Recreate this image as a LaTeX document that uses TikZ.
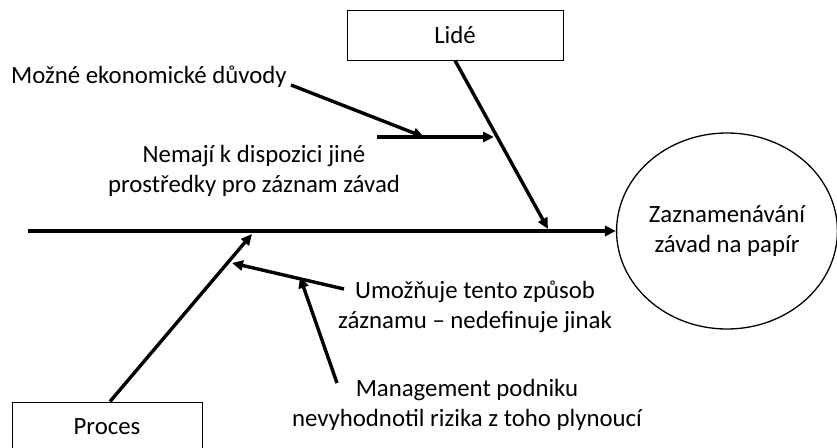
\documentclass[tikz,border=0pt]{standalone}
\usepackage{fontspec}
\setmainfont{Carlito}
\usetikzlibrary{arrows.meta,shapes.geometric}
\begin{document}
\begin{tikzpicture}[x=1pt,y=-1pt,
  bone/.style={line width=3.4pt,-{Triangle[length=11pt,width=10pt]}},
  spine/.style={line width=4pt,-{Triangle[length=11pt,width=10pt]}},
  catbox/.style={draw,line width=0.9pt,rectangle,inner sep=0pt},
  txt/.style={font=\fontsize{24.8}{29.5}\selectfont,align=center,inner sep=0pt}]
\useasboundingbox (0,0) rectangle (837,447);

% head of the fish
\node[draw,ellipse,line width=1.3pt,minimum width=216pt,minimum height=196pt,
      txt] (effect) at (727,231) {Zaznamenávání\\závad na papír};

% category boxes
\node[catbox,minimum width=216pt,minimum height=50pt,txt] (lide) at (455,35) {Lidé};
\node[catbox,minimum width=190pt,minimum height=60pt] (proces) at (107,432) {};
\node[txt] (procestxt) at (107,427) {Proces};

% cause labels
\node[txt,anchor=west] (econ) at (11,77) {Možné ekonomické důvody};
\node[txt] (nemaji) at (254,171) {Nemají k dispozici jiné\\prostředky pro záznam závad};
\node[txt] (umoz) at (475,307) {Umožňuje tento způsob\\záznamu – nedefinuje jinak};
\node[txt] (mgmt) at (467,405) {Management podniku\\nevyhodnotil rizika z toho plynoucí};

% attachment points
\coordinate (s0) at (28,231);
\coordinate (lideEnd) at (548,229);
\coordinate (procEnd) at (252,234);
\coordinate (h0) at (377,137);
\coordinate (h1) at (494,137);
\coordinate (econStart) at (291,85);
\coordinate (econEnd) at (424,137);
\coordinate (u0) at (344,289);
\coordinate (u1) at (232,263);
\coordinate (m0) at (337,383);
\coordinate (m1) at (300,277);

% spine and main bones
\draw[spine] (s0) -- (effect.west);
\draw[bone] (lide.south) -- (lideEnd);
\draw[bone] (proces.north) ++(3,0) -- (procEnd);

% sub-causes
\draw[bone] (h0) -- (h1);
\draw[bone] (econStart) -- (econEnd);
\draw[bone] (u0) -- (u1);
\draw[bone] (m0) -- (m1);
\end{tikzpicture}
\end{document}
